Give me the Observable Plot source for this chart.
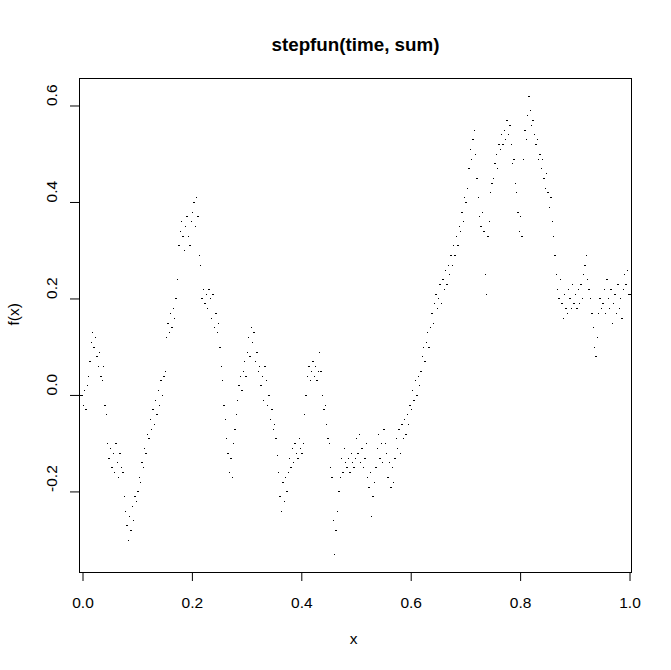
<!DOCTYPE html>
<html><head><meta charset="utf-8">
<script src="https://cdn.jsdelivr.net/npm/d3@7"></script>
<script src="https://cdn.jsdelivr.net/npm/@observablehq/plot@0.6"></script>
<style>body{margin:0;background:#fff}</style>
</head><body><div id="chart"></div>
<script>
const vals = [
 -0.02, 0.01, -0.03, 0.02, 0.04, 0.07, 0.11, 0.13, 0.10, 0.12, 0.08, 0.06, 0.09, 0.04, 0.03, 0.06, -0.02, -0.04, -0.10, -0.13,
 -0.11, -0.15, -0.12, -0.16, -0.10, -0.14, -0.17, -0.12, -0.15, -0.16, -0.21, -0.24, -0.27, -0.30, -0.25, -0.28, -0.23, -0.26, -0.21, -0.22,
 -0.20, -0.17, -0.18, -0.14, -0.15, -0.11, -0.12, -0.08, -0.09, -0.05, -0.07, -0.03, -0.06, -0.01, -0.04, 0.01, -0.02, 0.03, 0.00, 0.04,
 0.05, 0.12, 0.15, 0.13, 0.17, 0.14, 0.18, 0.16, 0.20, 0.24, 0.31, 0.34, 0.36, 0.33, 0.30, 0.35, 0.37, 0.33, 0.31, 0.36,
 0.38, 0.40, 0.35, 0.41, 0.37, 0.29, 0.27, 0.20, 0.22, 0.19, 0.21, 0.18, 0.22, 0.20, 0.16, 0.21, 0.14, 0.17, 0.13, 0.15,
 0.10, 0.06, 0.03, -0.02, -0.05, -0.09, -0.12, -0.16, -0.13, -0.17, -0.10, -0.07, -0.04, -0.01, 0.02, 0.04, 0.01, 0.05, 0.07, 0.04,
 0.09, 0.12, 0.08, 0.14, 0.11, 0.13, 0.07, 0.09, 0.05, 0.06, 0.02, 0.04, -0.01, 0.06, 0.03, -0.02, 0.00, -0.05, -0.03, -0.07,
 -0.06, -0.09, -0.125, -0.16, -0.21, -0.24, -0.18, -0.22, -0.17, -0.20, -0.16, -0.13, -0.15, -0.11, -0.14, -0.10, -0.12, -0.13, -0.09, -0.11,
 -0.12, -0.10, -0.04, 0.00, 0.04, 0.06, 0.03, 0.05, 0.07, 0.04, 0.06, 0.03, 0.05, 0.09, 0.05, 0.00, -0.03, -0.02, -0.06, -0.09,
 -0.10, -0.15, -0.17, -0.26, -0.33, -0.28, -0.24, -0.20, -0.17, -0.13, -0.16, -0.11, -0.14, -0.15, -0.13, -0.16, -0.12, -0.14, -0.15, -0.13,
 -0.09, -0.12, -0.08, -0.14, -0.11, -0.15, -0.13, -0.10, -0.17, -0.19, -0.16, -0.25, -0.21, -0.18, -0.15, -0.11, -0.08, -0.13, -0.10, -0.14,
 -0.07, -0.10, -0.12, -0.17, -0.14, -0.19, -0.15, -0.18, -0.13, -0.09, -0.11, -0.07, -0.12, -0.06, -0.09, -0.05, -0.08, -0.04, -0.06, -0.02,
 -0.03, 0.01, -0.01, 0.03, 0.00, 0.04, 0.02, 0.05, 0.08, 0.10, 0.07, 0.11, 0.13, 0.10, 0.14, 0.17, 0.15, 0.19, 0.21, 0.18,
 0.20, 0.23, 0.19, 0.24, 0.22, 0.26, 0.23, 0.27, 0.25, 0.29, 0.27, 0.31, 0.29, 0.33, 0.31, 0.35, 0.34, 0.38, 0.36, 0.41,
 0.40, 0.43, 0.47, 0.51, 0.49, 0.53, 0.55, 0.50, 0.45, 0.41, 0.37, 0.35, 0.38, 0.34, 0.25, 0.21, 0.33, 0.36, 0.42, 0.44,
 0.45, 0.48, 0.50, 0.47, 0.52, 0.51, 0.54, 0.52, 0.55, 0.53, 0.57, 0.54, 0.56, 0.52, 0.48, 0.49, 0.44, 0.42, 0.38, 0.34,
 0.37, 0.33, 0.49, 0.55, 0.53, 0.58, 0.62, 0.59, 0.56, 0.57, 0.54, 0.52, 0.53, 0.49, 0.50, 0.47, 0.49, 0.45, 0.43, 0.46,
 0.42, 0.39, 0.41, 0.36, 0.33, 0.29, 0.25, 0.22, 0.20, 0.24, 0.19, 0.16, 0.21, 0.18, 0.17, 0.22, 0.20, 0.18, 0.23, 0.19,
 0.21, 0.18, 0.22, 0.19, 0.23, 0.20, 0.25, 0.27, 0.29, 0.24, 0.22, 0.20, 0.17, 0.14, 0.10, 0.08, 0.12, 0.17, 0.20, 0.18,
 0.19, 0.22, 0.17, 0.24, 0.20, 0.18, 0.22, 0.15, 0.19, 0.21, 0.17, 0.23, 0.18, 0.20, 0.16, 0.22, 0.25, 0.23, 0.26, 0.21
];
const startValue = 0;
const xTicks = [0, 0.2, 0.4, 0.6, 0.8, 1.0];
const xTickLabels = ["0.0", "0.2", "0.4", "0.6", "0.8", "1.0"];
const yTicks = [-0.2, 0, 0.2, 0.4, 0.6];
const yTickLabels = ["-0.2", "0.0", "0.2", "0.4", "0.6"];
const titleText = "stepfun(time, sum)";
const xLabel = "x";
const yLabel = "f(x)";

const xDomain = [-0.0064, 1.0027];
const yDomain = [-0.367, 0.657];
const n = vals.length;
const time = d3.range(n).map(i => i / n);

const segs = [{x1: xDomain[0], x2: time[0], y: startValue}].concat(
  vals.map((v, i) => ({x1: time[i], x2: i + 1 < n ? time[i + 1] : xDomain[1], y: v}))
);

const font = "'Liberation Sans', Arial, Helvetica, sans-serif";
const chart = Plot.plot({
  width: 671, height: 670,
  marginLeft: 79, marginRight: 40, marginTop: 78, marginBottom: 98,
  x: {domain: xDomain},
  y: {domain: yDomain},
  style: {fontFamily: font, fontSize: "15.5px", background: "white", color: "black", overflow: "visible"},
  marks: [
    Plot.ruleY(segs, {x1: "x1", x2: "x2", y: "y", stroke: "black", strokeWidth: 1, shapeRendering: "crispEdges"}),
    Plot.frame({stroke: "black"}),
    Plot.axisX(xTicks, {tickSize: 9, tickPadding: 15, tickFormat: d => xTickLabels[xTicks.indexOf(d)], label: null, fontSize: 15.5}),
    Plot.axisY(yTicks, {tickSize: 9, tickFormat: () => "", label: null}),
    Plot.text(yTicks, {y: d => d, text: d => yTickLabels[yTicks.indexOf(d)], frameAnchor: "left", dx: -27.5, rotate: -90, fontSize: 15.5, fill: "black"}),
    Plot.text([titleText], {text: d => d, frameAnchor: "top", dy: -41, fontWeight: "bold", fontSize: 18.8, fill: "black"}),
    Plot.text([xLabel], {text: d => d, frameAnchor: "bottom", dy: 71, dx: -2, fontSize: 15.5, fill: "black"}),
    Plot.text([yLabel], {text: d => d, frameAnchor: "left", dx: -65, rotate: -90, fontSize: 15.5, fill: "black"})
  ]
});
document.getElementById("chart").appendChild(chart);
</script>
</body></html>
